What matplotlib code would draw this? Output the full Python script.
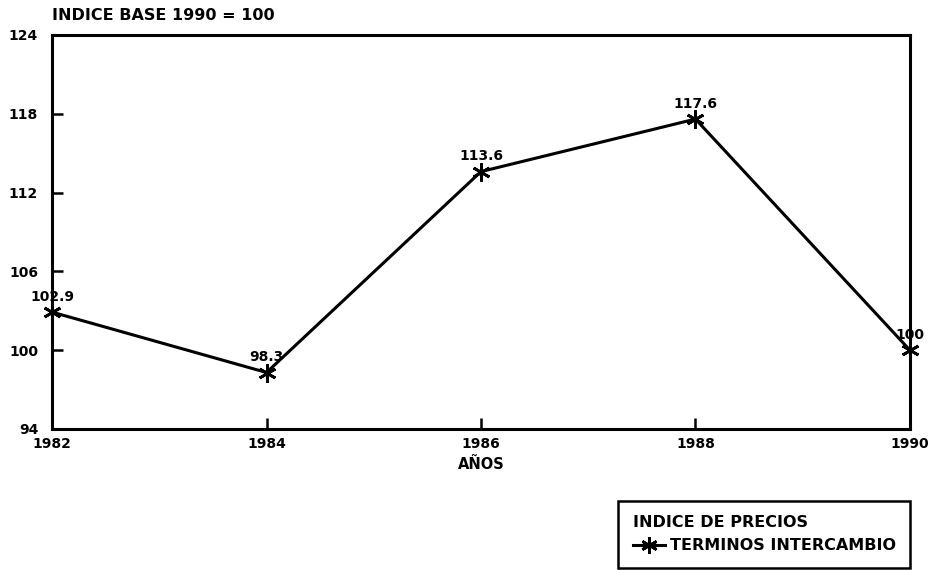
import matplotlib.pyplot as plt

# terms of trade index, base 1990 = 100
years = [1982, 1984, 1986, 1988, 1990]
terminos = [102.9, 98.3, 113.6, 117.6, 100]
value_labels = ["102.9", "98.3", "113.6", "117.6", "100"]
y_ticks = [94, 100, 106, 112, 118, 124]

plt.rcParams['font.family'] = ['DejaVu Sans']
plt.rcParams['font.weight'] = 'bold'

fig = plt.figure(figsize=(9.41, 5.70), dpi=100)
ax = fig.add_axes([0.0553, 0.2474, 0.9117, 0.6912])

line, = ax.plot(years, terminos, color='black', linewidth=2.2,
                marker=(6, 2, 0), markersize=13, markeredgewidth=2.0,
                label='TERMINOS INTERCAMBIO', clip_on=False, zorder=3)

for x, y, txt in zip(years, terminos, value_labels):
    ax.annotate(txt, (x, y), xytext=(0, 6), textcoords='offset points',
                ha='center', va='bottom', fontsize=10, fontweight='bold')

ax.set_xlim(1982, 1990)
ax.set_ylim(94, 124)
ax.set_xticks(years)
ax.set_yticks(y_ticks)
ax.tick_params(direction='in', length=8, width=1.8, labelsize=10, pad=6)
ax.tick_params(axis='y', pad=10)
for lbl in ax.get_xticklabels() + ax.get_yticklabels():
    lbl.set_fontweight('bold')
for s in ax.spines.values():
    s.set_linewidth(2.2)

ax.set_xlabel('AÑOS', fontsize=10.5, fontweight='bold', labelpad=4)
fig.text(0.0553, 0.972, 'INDICE BASE 1990 = 100', ha='left', va='center',
         fontsize=11.5, fontweight='bold')

leg = ax.legend(handles=[line], title='INDICE DE PRECIOS',
                loc='lower right', bbox_to_anchor=(0.967, 0.004),
                bbox_transform=fig.transFigure, fancybox=False,
                edgecolor='black', framealpha=1, fontsize=11.5,
                title_fontproperties={'weight': 'bold', 'size': 11.5},
                handlelength=2.0, handletextpad=0.3, borderpad=0.9,
                borderaxespad=0, markerscale=0.9)
leg.get_frame().set_linewidth(1.8)
leg._legend_box.align = 'left'
for t in leg.get_texts():
    t.set_fontweight('bold')

fig.savefig('out.png', dpi=100)
